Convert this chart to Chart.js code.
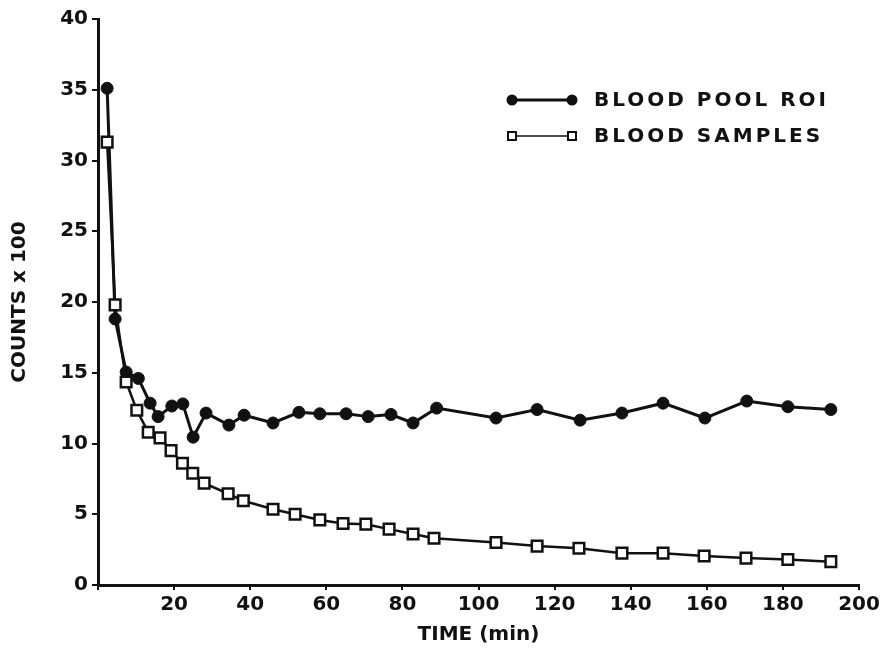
<!DOCTYPE html>
<html>
<head>
<meta charset="utf-8">
<script src="https://cdn.jsdelivr.net/npm/chart.js@4"></script>
<style>
  html, body { margin: 0; background: #fff; }
  #wrap { width: 887px; height: 655px; }
</style>
</head>
<body>
<div id="wrap"><canvas id="chart"></canvas></div>
<script>
// blood pool ROI (filled circles)
const poolTime = [2.4, 4.5, 7.4, 10.6, 13.7, 15.8, 19.4, 22.3, 25, 28.4, 34.4, 38.4, 46, 52.8, 58.3, 65.2, 71, 77, 82.8, 89, 104.6, 115.4, 126.7, 137.7, 148.5, 159.5, 170.5, 181.3, 192.6];
const poolCounts = [35.1, 18.8, 15.05, 14.6, 12.85, 11.9, 12.65, 12.8, 10.45, 12.15, 11.3, 12.0, 11.45, 12.2, 12.1, 12.1, 11.9, 12.05, 11.45, 12.5, 11.8, 12.4, 11.65, 12.15, 12.85, 11.8, 13.0, 12.6, 12.4];

// blood samples (open squares)
const sampleTime = [2.4, 4.5, 7.4, 10.2, 13.2, 16.3, 19.2, 22.2, 24.9, 27.9, 34.2, 38.2, 46, 51.8, 58.3, 64.4, 70.4, 76.5, 82.8, 88.3, 104.6, 115.4, 126.4, 137.7, 148.5, 159.3, 170.3, 181.3, 192.6];
const sampleCounts = [31.3, 19.8, 14.35, 12.35, 10.8, 10.4, 9.5, 8.6, 7.9, 7.2, 6.45, 5.95, 5.35, 5.0, 4.6, 4.35, 4.3, 3.95, 3.6, 3.3, 3.0, 2.75, 2.6, 2.25, 2.25, 2.05, 1.9, 1.8, 1.65];

const seriesNames = ['BLOOD POOL ROI', 'BLOOD SAMPLES'];

const ink = '#111';
const font = '"DejaVu Sans", sans-serif';

const toXY = (xs, ys) => xs.map((x, i) => ({ x: x, y: ys[i] }));

// legend drawn by hand: line with a marker at each end
const lineLegend = {
  id: 'lineLegend',
  afterDraw(chart) {
    const ctx = chart.ctx;
    ctx.save();
    ctx.font = 'bold 20px ' + font;
    ctx.letterSpacing = '3px';
    ctx.textBaseline = 'middle';
    ctx.fillStyle = ink;
    chart.data.datasets.forEach((ds, i) => {
      const y = 100 + i * 36;
      ctx.strokeStyle = ink;
      ctx.lineWidth = i === 0 ? 3 : 1.5;
      ctx.beginPath();
      ctx.moveTo(512, y);
      ctx.lineTo(572, y);
      ctx.stroke();
      [512, 572].forEach(x => {
        ctx.beginPath();
        if (ds.pointStyle === 'rect') {
          ctx.rect(x - 4, y - 4, 8, 8);
          ctx.fillStyle = '#fff';
          ctx.fill();
          ctx.lineWidth = 2;
          ctx.stroke();
        } else {
          ctx.arc(x, y, 5.5, 0, Math.PI * 2);
          ctx.fillStyle = ink;
          ctx.fill();
        }
      });
      ctx.fillStyle = ink;
      ctx.fillText(ds.label, 594, y + 1);
    });
    ctx.restore();
  }
};

const ctx1 = document.getElementById('chart').getContext('2d');

const myChart = new Chart(ctx1, {
  type: 'line',
  data: {
    datasets: [{
      label: seriesNames[0],
      data: toXY(poolTime, poolCounts),
      borderColor: ink,
      borderWidth: 3,
      pointStyle: 'circle',
      pointRadius: 6,
      pointBackgroundColor: ink,
      pointBorderColor: ink,
      pointBorderWidth: 1,
      tension: 0,
      order: 1
    }, {
      label: seriesNames[1],
      data: toXY(sampleTime, sampleCounts),
      borderColor: ink,
      borderWidth: 2.5,
      pointStyle: 'rect',
      pointRadius: 7.5,
      pointBackgroundColor: '#fff',
      pointBorderColor: ink,
      pointBorderWidth: 2.5,
      tension: 0,
      order: 0
    }]
  },
  options: {
    responsive: true,
    maintainAspectRatio: false,
    animation: false,
    layout: { padding: { left: 0, top: 19, right: 28, bottom: 0 } },
    plugins: {
      legend: { display: false },
      tooltip: { enabled: false }
    },
    scales: {
      x: {
        type: 'linear',
        min: 0,
        max: 200,
        afterFit(scale) { scale.height = 70; },
        border: { color: ink, width: 3 },
        grid: { drawOnChartArea: false, drawTicks: true, tickLength: 5, color: ink, lineWidth: 2 },
        ticks: {
          stepSize: 20,
          color: ink,
          font: { family: font, size: 20, weight: 'bold' },
          padding: 3,
          callback: v => (v === 0 ? '' : v)
        },
        title: {
          display: true,
          text: 'TIME (min)',
          color: ink,
          font: { family: font, size: 20, weight: 'bold' },
          padding: { top: 0, bottom: 8 }
        }
      },
      y: {
        min: 0,
        max: 40,
        afterFit(scale) { scale.width = 98; },
        border: { color: ink, width: 3 },
        grid: { drawOnChartArea: false, drawTicks: true, tickLength: 6, color: ink, lineWidth: 2 },
        ticks: {
          stepSize: 5,
          color: ink,
          font: { family: font, size: 20, weight: 'bold' },
          padding: 4
        },
        title: {
          display: true,
          text: 'COUNTS x 100',
          color: ink,
          font: { family: font, size: 20, weight: 'bold' },
          padding: { top: 8, bottom: 0 }
        }
      }
    }
  },
  plugins: [lineLegend]
});
</script>
</body>
</html>
